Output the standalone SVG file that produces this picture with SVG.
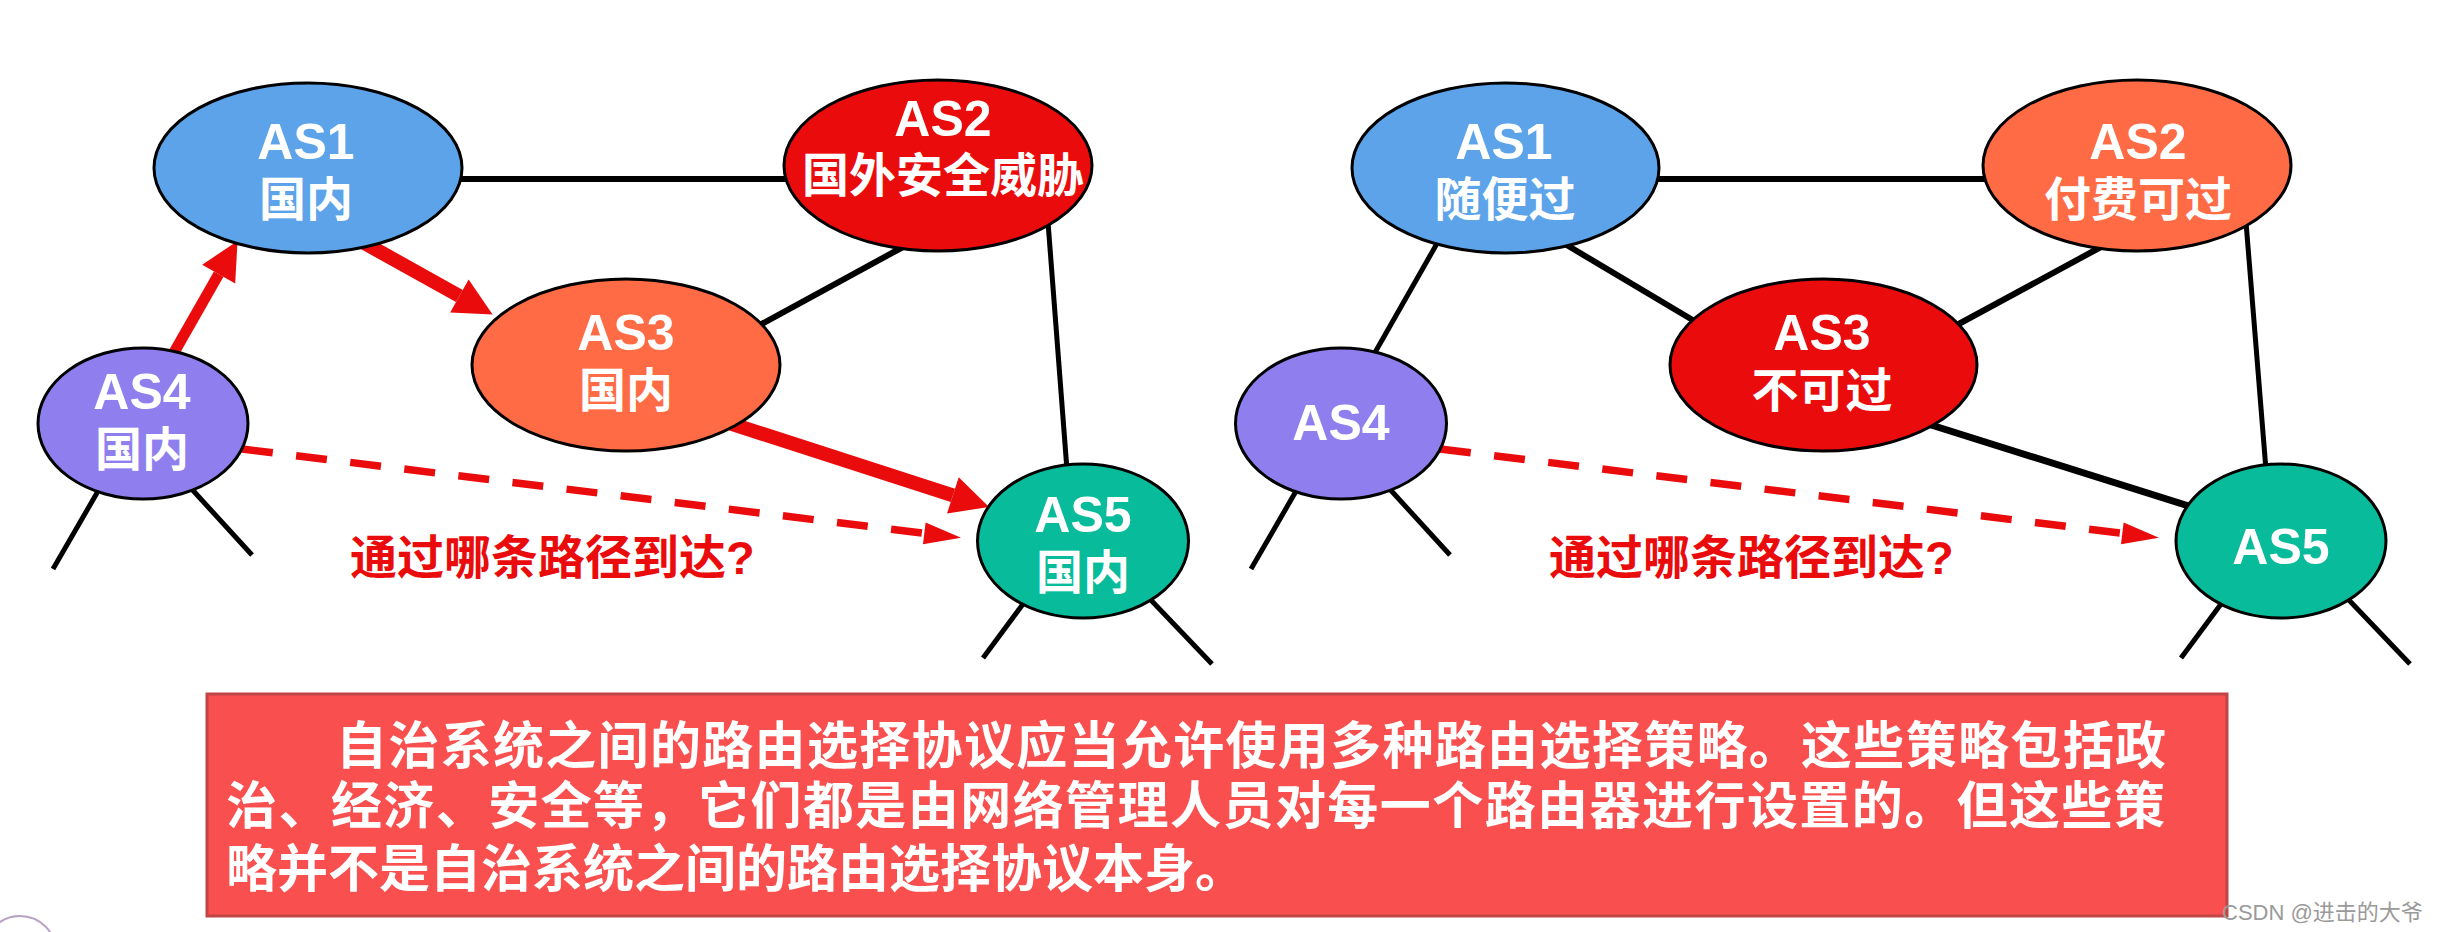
<svg xmlns="http://www.w3.org/2000/svg" width="2447" height="932" viewBox="0 0 2447 932">
<defs>
<style>
.bl{stroke:#000;fill:none;stroke-linecap:butt}
.rd{stroke:#EA0C0C;fill:none}
.nd{stroke:#000;stroke-width:3}
.lbl{font-family:"Liberation Sans","Noto Sans CJK SC",sans-serif;font-weight:bold;fill:#fff;text-anchor:middle;font-size:50px}
.cjk{font-family:"Liberation Sans","Noto Sans CJK SC",sans-serif;font-weight:bold;fill:#fff;text-anchor:middle;font-size:47px}
.q{font-family:"Liberation Sans","Noto Sans CJK SC",sans-serif;font-weight:bold;fill:#EA0C0C;font-size:47px}
.box{font-family:"Noto Sans CJK SC",sans-serif;font-weight:bold;fill:#fff;font-size:51px}
.blue{fill:#5CA3E9}.red{fill:#EA0C0C}.org{fill:#FF6B45}.pur{fill:#8F7FEE}.teal{fill:#08BB9A}
</style>
<marker id="ah" markerUnits="userSpaceOnUse" markerWidth="40" markerHeight="40" viewBox="0 -20 40 40" refX="0" refY="0" orient="auto" overflow="visible"><path d="M0,-19 L38,0 L0,19 z" fill="#EA0C0C"/></marker>
<marker id="ahs" markerUnits="userSpaceOnUse" markerWidth="40" markerHeight="24" viewBox="0 -12 40 24" refX="0" refY="0" orient="auto" overflow="visible"><path d="M0,-11 L37,0 L0,11 z" fill="#EA0C0C"/></marker>
</defs>
<rect width="2447" height="932" fill="#fff"/>
<g id="connectors">
<line class="bl" x1="455" y1="179" x2="790" y2="179" stroke-width="6"/>
<line class="bl" x1="903" y1="247" x2="758" y2="326" stroke-width="6"/>
<line class="bl" x1="1048" y1="222" x2="1067" y2="470" stroke-width="5"/>
<line class="bl" x1="101" y1="486" x2="53" y2="569" stroke-width="5"/>
<line class="bl" x1="188" y1="485" x2="252" y2="555" stroke-width="5"/>
<line class="bl" x1="1026" y1="600" x2="983" y2="658" stroke-width="5"/>
<line class="bl" x1="1148" y1="597" x2="1212" y2="664" stroke-width="5"/>
<line class="rd" x1="172" y1="356" x2="218.7" y2="274.1" stroke-width="11" marker-end="url(#ah)"/>
<line class="rd" x1="362.3" y1="241.9" x2="459.4" y2="296" stroke-width="14" marker-end="url(#ah)"/>
<line class="rd" x1="725.3" y1="421.8" x2="952.9" y2="495.3" stroke-width="14" marker-end="url(#ah)"/>
<line class="rd" x1="242" y1="449" x2="924.3" y2="533.3" stroke-width="7.5" stroke-dasharray="31 23.5" marker-end="url(#ahs)"/>
<line class="bl" x1="1653" y1="179" x2="1989" y2="179" stroke-width="6"/>
<line class="bl" x1="1439" y1="240" x2="1373" y2="356" stroke-width="5"/>
<line class="bl" x1="1565" y1="244" x2="1696" y2="322" stroke-width="6"/>
<line class="bl" x1="2101" y1="247" x2="1955" y2="326" stroke-width="6"/>
<line class="bl" x1="2246" y1="222" x2="2266" y2="470" stroke-width="5"/>
<line class="bl" x1="1928" y1="424" x2="2192" y2="507" stroke-width="7"/>
<line class="bl" x1="1299" y1="486" x2="1251" y2="569" stroke-width="5"/>
<line class="bl" x1="1386" y1="485" x2="1450" y2="555" stroke-width="5"/>
<line class="bl" x1="2224" y1="600" x2="2181" y2="658" stroke-width="5"/>
<line class="bl" x1="2346" y1="597" x2="2410" y2="664" stroke-width="5"/>
<line class="rd" x1="1440" y1="449" x2="2122.3" y2="533.3" stroke-width="7.5" stroke-dasharray="31 23.5" marker-end="url(#ahs)"/>
</g>
<g id="L-AS1"><ellipse class="nd blue" cx="308" cy="168" rx="154" ry="85"/><text class="lbl" x="306" y="159">AS1</text><text class="cjk" x="306" y="215.5">国内</text></g>
<g id="L-AS2"><ellipse class="nd red" cx="938" cy="165.5" rx="154" ry="85.5"/><text class="lbl" x="943" y="135.5">AS2</text><text class="cjk" x="943" y="191.5">国外安全威胁</text></g>
<g id="L-AS3"><ellipse class="nd org" cx="626" cy="365" rx="154" ry="86"/><text class="lbl" x="626" y="350">AS3</text><text class="cjk" x="626" y="406.5">国内</text></g>
<g id="L-AS4"><ellipse class="nd pur" cx="143" cy="423.5" rx="105" ry="75.5"/><text class="lbl" x="142" y="409">AS4</text><text class="cjk" x="142" y="465.5">国内</text></g>
<g id="L-AS5"><ellipse class="nd teal" cx="1083" cy="541" rx="105.5" ry="77"/><text class="lbl" x="1083" y="532">AS5</text><text class="cjk" x="1083" y="589">国内</text></g>
<g id="L-question"><text class="q" x="350" y="573.5">通过哪条路径到达?</text></g>
<g id="R-AS1"><ellipse class="nd blue" cx="1505.5" cy="168" rx="153.5" ry="85"/><text class="lbl" x="1504" y="159">AS1</text><text class="cjk" x="1505" y="215.5">随便过</text></g>
<g id="R-AS2"><ellipse class="nd org" cx="2137" cy="165.5" rx="154" ry="85.5"/><text class="lbl" x="2138" y="159">AS2</text><text class="cjk" x="2138" y="215.5">付费可过</text></g>
<g id="R-AS3"><ellipse class="nd red" cx="1823.5" cy="365" rx="153.5" ry="86"/><text class="lbl" x="1822" y="350">AS3</text><text class="cjk" x="1822" y="406.5">不可过</text></g>
<g id="R-AS4"><ellipse class="nd pur" cx="1341" cy="423.5" rx="105.5" ry="75.5"/><text class="lbl" x="1341" y="439.5">AS4</text></g>
<g id="R-AS5"><ellipse class="nd teal" cx="2281" cy="541" rx="105" ry="77"/><text class="lbl" x="2281" y="564">AS5</text></g>
<g id="R-question"><text class="q" x="1549" y="573.5">通过哪条路径到达?</text></g>
<g id="note">
<rect x="207" y="694" width="2020" height="222" fill="#F94F4F" stroke="#C04545" stroke-width="3"/>
<text class="box" x="336" y="764" textLength="1830" lengthAdjust="spacing">自治系统之间的路由选择协议应当允许使用多种路由选择策略。这些策略包括政</text>
<text class="box" x="226" y="824" textLength="1939" lengthAdjust="spacing">治、经济、安全等，它们都是由网络管理人员对每一个路由器进行设置的。但这些策</text>
<text class="box" x="226" y="887">略并不是自治系统之间的路由选择协议本身。</text>
</g>
<g id="logo"><circle cx="20" cy="952" r="36" fill="none" stroke="#B9A3C4" stroke-width="2"/></g>
<text x="2222" y="920" font-family="Liberation Sans,Noto Sans CJK SC,sans-serif" font-size="22" fill="#9A9A9A">CSDN @进击的大爷</text>
</svg>
